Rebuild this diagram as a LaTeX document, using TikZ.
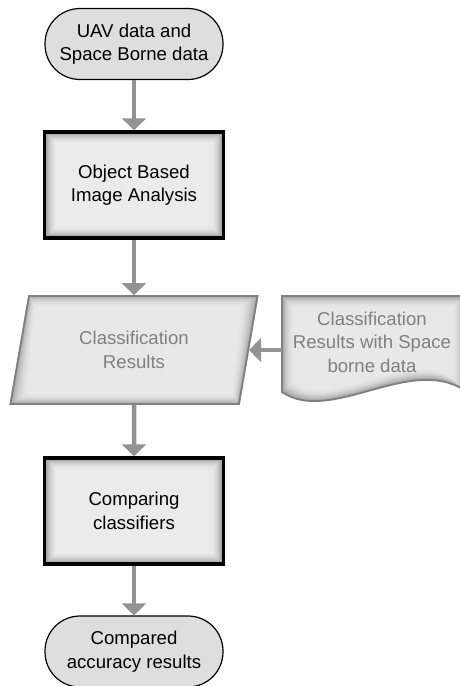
\documentclass[tikz,border=0pt]{standalone}
\usepackage{fontspec}
\setmainfont{Liberation Sans}
\usetikzlibrary{shapes.geometric, arrows.meta, backgrounds}
\definecolor{termgray}{RGB}{221,222,221}
\definecolor{edgegray}{RGB}{128,128,128}
\definecolor{textgray}{RGB}{128,128,128}
\definecolor{arrowgray}{RGB}{147,147,147}
\begin{document}
\begin{tikzpicture}[x=1pt,y=1pt,
  every node/.style={font=\fontsize{18.6}{23.5}\selectfont, align=center},
  term/.style={draw=black, line width=1.2pt, fill=termgray, rounded corners=35pt,
    minimum width=178pt, minimum height=71pt, inner sep=0pt},
  proc/.style={draw=black, line width=3.5pt, minimum width=179pt, minimum height=106pt, inner sep=0pt},
  para/.style={trapezium, trapezium left angle=63.43, trapezium right angle=116.57,
    trapezium stretches body, draw=edgegray, line width=1.8pt,
    minimum width=247pt, minimum height=108pt, text=textgray, inner sep=0pt},
  docn/.style={minimum width=180pt, minimum height=92pt, inner sep=0pt, outer sep=0pt, text=textgray},
  docline/.style={draw=edgegray, line width=1.8pt},
  flow/.style={draw=arrowgray, line width=4.5pt, -{Triangle[width=24pt,length=12pt]}},
]
\useasboundingbox (0,0) rectangle (460,-686);

\node[term] (start) at (134,-44) {UAV data and\\Space Borne data};
\node[proc] (oba) at (134,-185) {Object Based\\Image Analysis};
\node[para] (res) at (134,-350) {Classification\\Results};
\node[docn, anchor=north west] (doc) at (282,-296) {Classification\\Results with Space\\borne data};
\node[proc] (cmp) at (134,-511) {Comparing\\classifiers};
\node[term] (acc) at (134,-651.5) {Compared\\accuracy results};

\begin{scope}[on background layer]
  \foreach \n in {oba,cmp}{
    \foreach \i in {0,...,14}{
      \pgfmathsetmacro\c{8+45*(1-\i/14)^2}
      \fill[black!\c] ([shift={(\i,-\i)}]\n.north west) rectangle ([shift={(-\i,\i)}]\n.south east);
    }
  }
  \foreach \i in {0,...,12}{
    \pgfmathsetmacro\c{9+28*(1-\i/12)^2}
    \fill[black!\c] ([shift={(0.618*\i,-\i)}]res.top left corner)
      -- ([shift={(-1.618*\i,-\i)}]res.top right corner)
      -- ([shift={(-0.618*\i,\i)}]res.bottom right corner)
      -- ([shift={(1.618*\i,\i)}]res.bottom left corner) -- cycle;
  }
  \foreach \i in {0,...,12}{
    \pgfmathsetmacro\c{9+28*(1-\i/12)^2}
    \fill[black!\c] (282+\i,-296-\i) -- (464-\i,-296-\i) -- (464-\i,-390+\i)
      .. controls (410,-355+\i) and (330,-425+\i) .. (282+\i,-392+\i) -- cycle;
  }
\end{scope}
\draw[docline] (282,-296) -- (464,-296) -- (464,-390)
  .. controls (410,-355) and (330,-425) .. (282,-392) -- cycle;

\draw[flow] (start) -- (oba);
\draw[flow] (oba) -- (res);
\draw[flow] (res) -- (cmp);
\draw[flow] (cmp) -- (acc);
\draw[flow] (doc.west |- res.east) -- (res.east);
\end{tikzpicture}
\end{document}
